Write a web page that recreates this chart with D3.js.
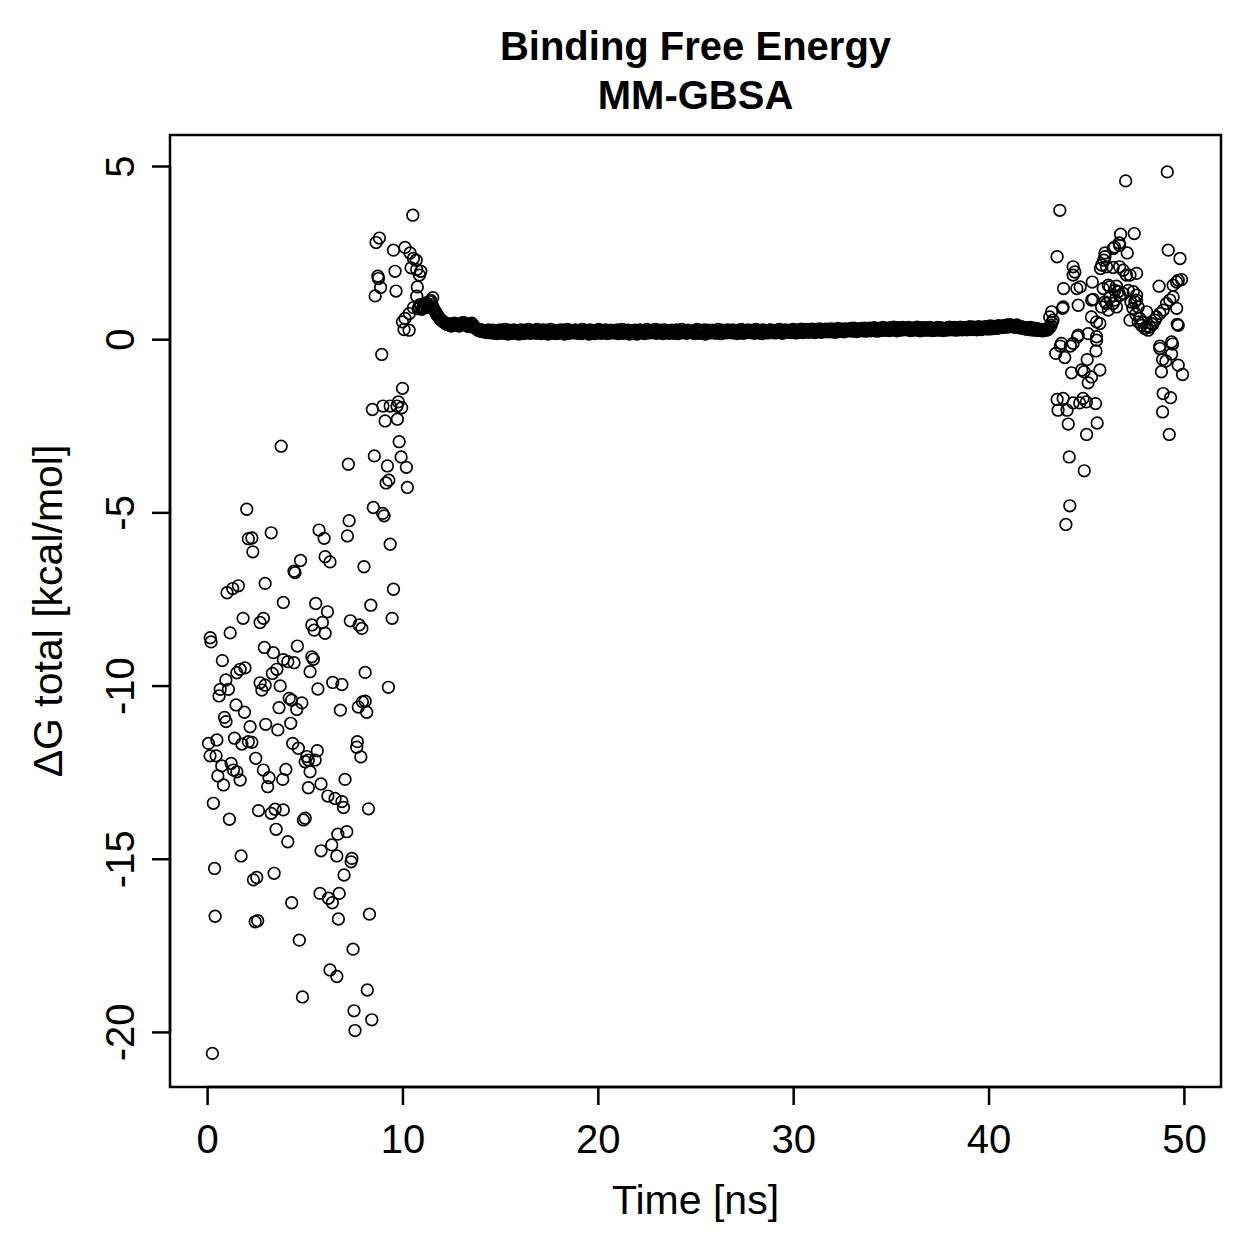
<!DOCTYPE html>
<html>
<head>
<meta charset="utf-8">
<script src="https://cdn.jsdelivr.net/npm/d3@7"></script>
<style>
  html, body { margin: 0; padding: 0; background: #fff; }
  text { font-family: "Liberation Sans", Arial, Helvetica, sans-serif; fill: #000; }
</style>
</head>
<body>
<div id="chart"></div>
<script>
// Early part of the run (0 - 11.6 ns): scattered frames
const earlyTime = [
  0.27, 0.16, 0.20, 0.07, 0.50, 0.15, 0.46, 0.75, 0.55, 0.84, 0.32, 0.38, 0.41,
  0.78, 0.96, 0.67, 1.09, 0.61, 0.89, 0.97, 1.02, 1.31, 1.60, 1.18, 1.84,
  1.52, 1.69, 1.94, 1.48, 1.91, 2.20, 1.40, 1.78, 2.11, 2.29, 1.23, 1.35, 1.52, 1.69, 1.14, 1.74,
  2.03, 2.11, 2.29, 2.34, 2.71, 2.88, 2.97, 2.93, 3.39, 2.71, 2.97, 2.80, 3.00, 3.62, 3.68,
  3.34, 3.57, 3.74, 2.49, 2.88, 3.17, 3.10, 2.63, 3.28, 3.48, 3.53, 2.37, 2.54, 3.43, 2.46, 2.59,
  3.28, 3.79, 3.90, 3.90, 4.13, 4.45, 4.62, 4.20, 4.33, 4.85, 4.59, 4.28, 4.38, 4.67,
  3.87, 4.03, 3.90, 4.13, 4.33, 4.72, 4.88, 4.78, 4.45, 4.50,
  5.10, 5.02, 5.18, 5.53, 5.27, 5.64, 5.83, 5.18, 4.93, 5.02, 5.36, 5.44, 5.27, 5.67,
  5.56, 5.36, 5.48, 5.73, 5.99, 6.04, 6.29, 6.16, 5.90, 6.04, 5.83, 5.78, 6.21, 6.41,
  6.18, 6.55, 6.90, 6.98, 6.43, 6.90, 6.82, 6.38, 6.69, 7.15, 6.64, 7.41, 7.37,
  7.01, 6.76, 6.72, 6.29, 6.64, 7.06, 7.27, 7.18, 7.23, 7.33, 7.78, 7.92, 8.03, 8.38, 8.09,
  7.74, 7.95, 8.09, 8.17, 7.69, 7.66, 7.87, 8.26, 8.31, 7.47, 8.20, 7.52, 8.43, 7.57,
  9.28, 9.54, 9.47, 8.51, 8.99, 9.06, 9.37, 8.56, 9.83, 9.93, 9.23, 10.20, 9.16, 9.30, 10.25,
  8.46, 9.00, 9.37, 9.79, 9.96, 9.72, 9.11, 9.74, 10.00, 8.94,
  10.00, 10.13, 10.35, 10.56, 10.08, 10.34,
  8.60, 8.88, 8.74, 8.77, 9.67, 9.62,
  8.82, 8.65, 9.54, 10.13, 10.39, 10.56, 10.70, 10.44, 10.73, 10.94, 10.87, 10.76, 10.73, 11.55, 10.53
];
const earlyDG = [
  -20.62, -8.62, -8.74, -11.67, -11.57, -12.03, -12.03, -12.32, -12.61, -12.87, -13.40, -15.28, -16.66,
  -9.28, -9.84, -10.11, -10.11, -10.30, -10.92, -11.04, -7.32, -7.20, -7.12, -8.48, -8.06,
  -9.63, -9.53, -9.49, -10.56, -10.77, -11.19, -11.52, -11.69, -11.62, -11.64, -12.25, -12.44, -12.49, -12.73, -13.86, -14.92,
  -4.91, -5.76, -5.74, -6.14, -8.18, -8.06, -7.05, -8.90, -9.05, -9.92, -9.99, -10.13, -11.12, -11.28, -10.64,
  -9.65, -9.53, -10.01, -12.10, -12.44, -12.66, -12.92, -13.61, -13.69, -13.57, -14.15, -15.61, -15.54, -15.42, -16.82, -16.79,
  -5.59, -3.09, -7.60, -9.25, -9.31, -9.34, -8.86, -10.37, -10.42, -10.50, -10.69, -11.09, -11.67, -11.81,
  -12.71, -12.42, -13.59, -14.51, -16.27, -17.35, -18.99, -6.39, -6.70, -6.74,
  -12.05, -12.20, -12.15, -12.15, -12.49, -11.88, -12.84, -12.95, -13.88, -13.83, -9.17, -9.24, -9.60, -10.10,
  -7.63, -8.25, -8.40, -5.51, -5.75, -6.28, -6.43, -7.87, -8.18, -8.49, -14.77, -16.00, -16.14, -16.27,
  -13.19, -13.26, -13.35, -13.52, -9.91, -9.97, -10.71, -14.60, -14.29, -14.22, -14.92, -14.99, -15.09,
  -15.47, -16.00, -16.74, -18.21, -18.40, -12.71, -5.24, -5.68, -3.61, -8.13, -8.25, -8.35, -6.57, -7.68, -9.62,
  -10.62, -10.47, -10.45, -10.77, -11.62, -11.78, -12.06, -13.56, -16.60, -17.61, -18.79, -19.39, -19.65, -19.96,
  -10.05, -7.22, -8.06, -4.86, -5.03, -5.10, -5.92, -3.37, -2.96, -3.40, -3.66, -3.70, -4.15, -4.07, -4.28,
  -2.03, -1.93, -1.93, -1.81, -1.98, -1.93, -2.36, -2.31, -1.42, -0.44,
  0.50, 0.60, 0.74, 0.91, 0.28, 0.26,
  1.25, 1.49, 1.82, 1.75, 1.39, 1.96,
  2.92, 2.79, 2.57, 2.65, 2.49, 2.33, 2.28, 2.06, 2.01, 1.96, 1.85, 1.51, 1.24, 1.20, 3.58
];

// Plateau (10.8 - 43.25 ns), one frame every 0.05 ns, one row per ns
const plateauStart = 10.8;
const plateauStep = 0.05;
const plateauDG = [
  0.88, 0.94, 1.00, 0.97, 0.86, 0.90, 0.95, 1.02, 1.05, 0.98, 0.92, 0.96, 1.08, 1.12, 1.00, 0.94, 0.88, 0.82, 0.78, 0.72,
  0.68, 0.64, 0.60, 0.57, 0.55, 0.52, 0.50, 0.48, 0.46, 0.44, 0.42, 0.45, 0.43, 0.40, 0.38, 0.41, 0.43, 0.46, 0.44, 0.42,
  0.40, 0.43, 0.38, 0.41, 0.44, 0.47, 0.45, 0.48, 0.43, 0.40, 0.42, 0.38, 0.36, 0.39, 0.44, 0.46, 0.42, 0.38, 0.34, 0.31,
  0.29, 0.27, 0.25, 0.28, 0.24, 0.22, 0.26, 0.23, 0.21, 0.25, 0.19, 0.23, 0.27, 0.20, 0.24, 0.18, 0.22, 0.26, 0.21, 0.17,
  0.21, 0.16, 0.25, 0.19, 0.27, 0.22, 0.17, 0.24, 0.20, 0.28, 0.18, 0.23, 0.15, 0.26, 0.21, 0.19, 0.24, 0.17, 0.27, 0.22,
  0.18, 0.25, 0.20, 0.15, 0.23, 0.27, 0.19, 0.22, 0.16, 0.26, 0.21, 0.24, 0.18, 0.28, 0.20, 0.17, 0.25, 0.22, 0.19, 0.26,
  0.23, 0.17, 0.28, 0.21, 0.19, 0.25, 0.16, 0.22, 0.27, 0.20, 0.24, 0.18, 0.26, 0.15, 0.23, 0.21, 0.28, 0.19, 0.22, 0.17,
  0.25, 0.20, 0.16, 0.24, 0.22, 0.18, 0.27, 0.21, 0.19, 0.26, 0.15, 0.23, 0.20, 0.28, 0.17, 0.25, 0.22, 0.18, 0.24, 0.20,
  0.19, 0.27, 0.22, 0.17, 0.25, 0.20, 0.23, 0.16, 0.28, 0.21, 0.18, 0.26, 0.24, 0.19, 0.22, 0.15, 0.27, 0.20, 0.23, 0.18,
  0.24, 0.16, 0.21, 0.26, 0.18, 0.28, 0.20, 0.23, 0.17, 0.25, 0.22, 0.19, 0.27, 0.21, 0.16, 0.24, 0.20, 0.26, 0.18, 0.23,
  0.20, 0.25, 0.18, 0.22, 0.27, 0.16, 0.24, 0.19, 0.21, 0.28, 0.17, 0.23, 0.20, 0.25, 0.19, 0.26, 0.15, 0.22, 0.24, 0.21,
  0.17, 0.23, 0.26, 0.20, 0.15, 0.24, 0.21, 0.27, 0.18, 0.22, 0.25, 0.19, 0.16, 0.23, 0.28, 0.20, 0.24, 0.18, 0.21, 0.26,
  0.22, 0.19, 0.24, 0.28, 0.17, 0.21, 0.25, 0.18, 0.26, 0.20, 0.23, 0.16, 0.27, 0.22, 0.19, 0.25, 0.21, 0.17, 0.24, 0.20,
  0.26, 0.21, 0.17, 0.23, 0.20, 0.27, 0.16, 0.24, 0.22, 0.18, 0.28, 0.21, 0.19, 0.25, 0.23, 0.17, 0.26, 0.20, 0.22, 0.19,
  0.21, 0.24, 0.19, 0.16, 0.26, 0.22, 0.28, 0.20, 0.17, 0.23, 0.25, 0.18, 0.22, 0.27, 0.15, 0.24, 0.21, 0.26, 0.19, 0.23,
  0.18, 0.26, 0.22, 0.25, 0.19, 0.17, 0.23, 0.28, 0.21, 0.24, 0.16, 0.22, 0.26, 0.20, 0.25, 0.18, 0.23, 0.27, 0.21, 0.19,
  0.24, 0.20, 0.27, 0.18, 0.22, 0.25, 0.19, 0.16, 0.26, 0.21, 0.23, 0.28, 0.20, 0.17, 0.24, 0.22, 0.19, 0.25, 0.27, 0.21,
  0.19, 0.23, 0.21, 0.26, 0.17, 0.24, 0.28, 0.20, 0.22, 0.18, 0.25, 0.21, 0.16, 0.27, 0.23, 0.19, 0.24, 0.22, 0.18, 0.26,
  0.23, 0.27, 0.20, 0.22, 0.25, 0.18, 0.21, 0.26, 0.19, 0.24, 0.28, 0.22, 0.20, 0.17, 0.25, 0.23, 0.27, 0.21, 0.24, 0.20,
  0.22, 0.26, 0.19, 0.24, 0.28, 0.21, 0.25, 0.18, 0.23, 0.27, 0.20, 0.24, 0.29, 0.22, 0.19, 0.26, 0.23, 0.28, 0.21, 0.25,
  0.20, 0.27, 0.23, 0.29, 0.22, 0.25, 0.19, 0.26, 0.28, 0.21, 0.24, 0.30, 0.23, 0.20, 0.27, 0.25, 0.22, 0.29, 0.24, 0.21,
  0.27, 0.23, 0.30, 0.21, 0.26, 0.29, 0.24, 0.20, 0.28, 0.25, 0.31, 0.22, 0.26, 0.29, 0.23, 0.27, 0.21, 0.30, 0.25, 0.28,
  0.24, 0.29, 0.26, 0.31, 0.23, 0.28, 0.32, 0.25, 0.27, 0.22, 0.30, 0.26, 0.29, 0.24, 0.31, 0.27, 0.25, 0.32, 0.23, 0.28,
  0.30, 0.25, 0.32, 0.27, 0.24, 0.31, 0.28, 0.33, 0.26, 0.29, 0.23, 0.30, 0.27, 0.32, 0.25, 0.29, 0.34, 0.26, 0.31, 0.28,
  0.26, 0.32, 0.29, 0.25, 0.33, 0.28, 0.30, 0.35, 0.27, 0.31, 0.24, 0.29, 0.33, 0.26, 0.30, 0.28, 0.34, 0.27, 0.32, 0.29,
  0.31, 0.27, 0.34, 0.29, 0.25, 0.32, 0.28, 0.30, 0.26, 0.33, 0.29, 0.35, 0.27, 0.31, 0.24, 0.30, 0.33, 0.28, 0.26, 0.32,
  0.28, 0.33, 0.26, 0.30, 0.34, 0.27, 0.31, 0.25, 0.29, 0.32, 0.28, 0.26, 0.34, 0.30, 0.27, 0.33, 0.29, 0.25, 0.31, 0.28,
  0.30, 0.26, 0.33, 0.29, 0.35, 0.28, 0.32, 0.27, 0.31, 0.34, 0.29, 0.26, 0.33, 0.30, 0.28, 0.35, 0.31, 0.27, 0.32, 0.29,
  0.33, 0.29, 0.27, 0.34, 0.31, 0.36, 0.28, 0.32, 0.30, 0.35, 0.29, 0.33, 0.27, 0.31, 0.36, 0.30, 0.34, 0.28, 0.32, 0.35,
  0.31, 0.36, 0.33, 0.29, 0.35, 0.32, 0.38, 0.30, 0.34, 0.37, 0.32, 0.36, 0.31, 0.35, 0.39, 0.33, 0.37, 0.34, 0.38, 0.36,
  0.34, 0.39, 0.36, 0.41, 0.35, 0.38, 0.42, 0.37, 0.40, 0.36, 0.39, 0.34, 0.38, 0.41, 0.35, 0.37, 0.33, 0.36, 0.32, 0.35,
  0.34, 0.30, 0.33, 0.29, 0.32, 0.28, 0.31, 0.34, 0.27, 0.30, 0.32, 0.26, 0.29, 0.31, 0.27, 0.25, 0.29, 0.26, 0.28, 0.24,
  0.27, 0.25, 0.29, 0.26, 0.30, 0.28, 0.32, 0.35, 0.40, 0.48
];

// Late part of the run (43 - 50 ns): scattered frames
const lateTime = [
  49.15, 47.02, 43.65, 46.76, 47.46, 46.69, 46.38, 45.96, 45.96, 45.90, 47.10, 49.20, 49.80,
  43.51, 44.33, 44.42, 44.33, 46.45, 46.71,
  45.73, 46.38, 46.71, 46.89, 47.06, 47.24, 47.58, 45.79, 46.04,
  43.84, 44.52, 44.69, 45.31, 45.87, 46.21, 46.47, 46.64, 46.72, 46.21, 45.96, 46.38, 46.55,
  46.13, 45.79, 45.28, 47.15, 47.41, 47.58, 47.49, 48.73, 49.45, 49.71, 49.88, 49.63,
  45.36, 44.59, 43.82, 43.79, 43.23, 43.13, 43.30, 45.27, 45.53, 45.70, 47.24, 49.66,
  44.59, 45.10, 45.53, 44.33, 43.73,
  47.66, 47.83, 48.00, 48.17, 48.35, 48.52, 48.60, 48.77, 48.94, 49.11, 49.28, 49.45, 49.63, 49.71,
  49.37, 48.77, 47.90, 48.10, 48.26, 48.41, 47.75, 47.54, 47.39, 47.29, 47.58, 47.66, 48.09,
  46.13, 46.55, 46.47, 46.04, 46.89,
  43.44, 43.68, 43.90, 44.19, 44.56, 45.53, 45.50, 45.05,
  44.25, 44.77, 44.89, 45.27, 45.10, 45.70,
  43.51, 43.82, 43.56, 44.02, 44.33, 44.67, 44.84, 45.01, 45.48,
  44.08, 45.56, 45.02, 44.13, 44.90, 44.16, 43.96,
  48.77, 49.42, 49.37, 48.91, 49.08, 48.85, 49.71, 49.93, 48.94, 49.32, 48.91, 49.25
];
const lateDG = [
  4.83, 4.57, 3.72, 3.03, 3.05, 2.78, 2.62, 2.49, 2.38, 2.28, 2.49, 2.57, 2.33,
  2.38, 2.09, 1.94, 1.85, 2.66, 2.71,
  2.04, 2.07, 2.09, 1.99, 1.85, 1.85, 1.90, 2.14, 2.09,
  1.46, 1.46, 1.51, 1.65, 1.46, 1.51, 1.41, 1.37, 1.27, 1.22, 1.08, 1.03, 0.93,
  0.84, 0.93, 1.13, 1.41, 1.37, 1.27, 1.08, 1.53, 1.56, 1.70, 1.72, 1.65,
  1.15, 0.98, 0.93, 0.89, 0.79, 0.64, 0.55, 0.64, 0.50, 0.45, 0.55, 0.43,
  0.12, 0.16, 0.07, -0.12, -0.12,
  0.50, 0.40, 0.31, 0.26, 0.45, 0.55, 0.64, 0.74, 0.84, 1.03, 1.13, 1.22, 0.89, 0.40,
  -0.08, -0.20, 0.49, 0.37, 0.35, 0.43, 0.60, 0.72, 0.89, 1.07, 1.13, 0.93, 0.79,
  1.56, 1.53, 1.13, 1.03, 1.32,
  -0.41, -0.20, -0.53, -0.20, 0.07, -0.03, -0.34, -0.59,
  -0.97, -0.89, -0.94, -1.09, -1.26, -0.89,
  -1.74, -1.71, -2.05, -2.05, -1.84, -1.84, -1.71, -1.81, -1.86,
  -2.45, -2.42, -2.75, -3.40, -3.80, -4.81, -5.35,
  -0.27, -0.14, -0.43, -0.59, -0.63, -0.94, -0.75, -1.02, -1.57, -1.69, -2.10, -2.75
];

const xTicks = [0, 10, 20, 30, 40, 50];
const yTicks = [5, 0, -5, -10, -15, -20];

// build point list
const points = [];
earlyTime.forEach((t, i) => points.push({ t: t, v: earlyDG[i] }));
plateauDG.forEach((v, i) => points.push({ t: plateauStart + i * plateauStep, v: v }));
lateTime.forEach((t, i) => points.push({ t: t, v: lateDG[i] }));

const width = 1259;
const height = 1259;
const box = { left: 170, right: 1221, top: 135, bottom: 1087 };
const fontFamily = '"Liberation Sans", Arial, Helvetica, sans-serif';

const svg = d3.select('#chart')
  .append('svg')
  .attr('width', width)
  .attr('height', height);

const xScale = d3.scaleLinear()
  .domain([-1.9, 51.9])
  .range([box.left, box.right]);

const yScale = d3.scaleLinear()
  .domain([-21.59, 5.895])
  .range([box.bottom, box.top]);

// points
svg.append('g')
  .selectAll('circle')
  .data(points)
  .enter()
  .append('circle')
  .attr('cx', d => xScale(d.t))
  .attr('cy', d => yScale(d.v))
  .attr('r', 5.8)
  .attr('fill', 'none')
  .attr('stroke', '#000')
  .attr('stroke-width', 1.7);

// box
svg.append('rect')
  .attr('x', box.left)
  .attr('y', box.top)
  .attr('width', box.right - box.left)
  .attr('height', box.bottom - box.top)
  .attr('fill', 'none')
  .attr('stroke', '#000')
  .attr('stroke-width', 2.5);

// x axis
const xAxis = svg.append('g')
  .attr('transform', `translate(0, ${box.bottom})`)
  .call(d3.axisBottom(xScale).tickValues(xTicks).tickSize(18).tickPadding(0).tickFormat(d3.format('d')));
xAxis.select('.domain')
  .attr('d', `M${xScale(0)},0H${xScale(50)}`)
  .attr('stroke-width', 2.5);
xAxis.selectAll('.tick line').attr('stroke-width', 2.5);
xAxis.selectAll('.tick text')
  .attr('font-size', 40)
  .attr('font-family', fontFamily)
  .attr('y', 66)
  .attr('dy', 0);

// y axis
const yAxis = svg.append('g')
  .attr('transform', `translate(${box.left}, 0)`)
  .call(d3.axisLeft(yScale).tickValues(yTicks).tickSize(18).tickFormat(d => d));
yAxis.select('.domain')
  .attr('d', `M0,${yScale(5)}V${yScale(-20)}`)
  .attr('stroke-width', 2.5);
yAxis.selectAll('.tick line').attr('stroke-width', 2.5);
yAxis.selectAll('.tick text')
  .attr('font-size', 40)
  .attr('font-family', fontFamily)
  .attr('text-anchor', 'middle')
  .attr('x', 0)
  .attr('dy', 0)
  .attr('transform', 'translate(-36, 0) rotate(-90)');

// titles
svg.append('text')
  .attr('x', (box.left + box.right) / 2)
  .attr('y', 60)
  .attr('text-anchor', 'middle')
  .attr('font-size', 40)
  .attr('font-weight', 'bold')
  .text('Binding Free Energy');

svg.append('text')
  .attr('x', (box.left + box.right) / 2)
  .attr('y', 109)
  .attr('text-anchor', 'middle')
  .attr('font-size', 40)
  .attr('font-weight', 'bold')
  .text('MM-GBSA');

svg.append('text')
  .attr('x', (box.left + box.right) / 2)
  .attr('y', 1214)
  .attr('text-anchor', 'middle')
  .attr('font-size', 41)
  .text('Time [ns]');

svg.append('text')
  .attr('transform', `translate(62, ${(box.top + box.bottom) / 2}) rotate(-90)`)
  .attr('text-anchor', 'middle')
  .attr('font-size', 41)
  .text('ΔG total [kcal/mol]');
</script>
</body>
</html>
